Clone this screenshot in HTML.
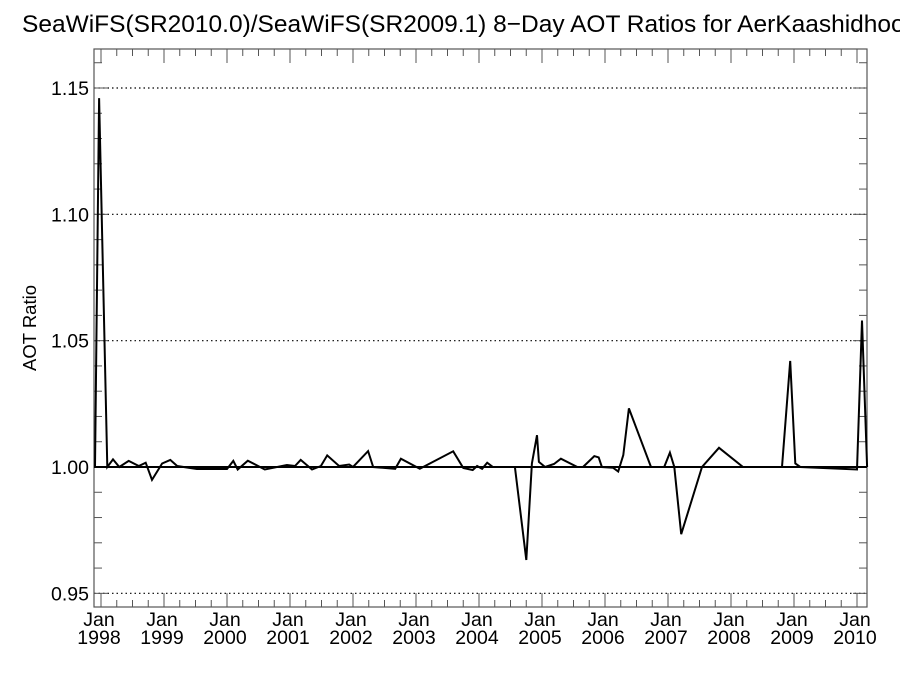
<!DOCTYPE html>
<html><head><meta charset="utf-8"><style>
html,body{margin:0;padding:0;background:#fff;}
svg{display:block;font-family:"Liberation Sans",Arial,sans-serif;}
</style></head><body>
<svg id="chart" width="900" height="675" viewBox="0 0 900 675">
<rect x="0" y="0" width="900" height="675" fill="#fff"/>
<text x="22" y="32" font-size="24.5" fill="#000">SeaWiFS(SR2010.0)/SeaWiFS(SR2009.1) 8−Day AOT Ratios for AerKaashidhoo</text>
<text transform="translate(36,328) rotate(-90)" text-anchor="middle" font-size="18.5" fill="#000">AOT Ratio</text>
<g id="grid"></g><g id="axes"></g><g id="series"></g>
</svg>
<script>
const yTickValues = [0.95, 1.00, 1.05, 1.10, 1.15];
const yTickLabels = ["0.95", "1.00", "1.05", "1.10", "1.15"];
const xYears = [1998,1999,2000,2001,2002,2003,2004,2005,2006,2007,2008,2009,2010];
const xTickLabels = ["1998","1999","2000","2001","2002","2003","2004","2005","2006","2007","2008","2009","2010"];
const dates = [1997.905,1997.97,1998.10,1998.19,1998.29,1998.44,1998.60,1998.71,1998.81,1998.97,1999.10,1999.21,1999.52,2000.00,2000.10,2000.17,2000.33,2000.60,2000.95,2001.08,2001.17,2001.35,2001.49,2001.59,2001.78,2001.94,2002.00,2002.24,2002.32,2002.67,2002.76,2003.06,2003.59,2003.75,2003.90,2003.97,2004.05,2004.13,2004.22,2004.57,2004.75,2004.84,2004.92,2004.95,2005.05,2005.19,2005.30,2005.56,2005.65,2005.83,2005.90,2005.95,2006.13,2006.21,2006.29,2006.38,2006.73,2006.94,2007.03,2007.10,2007.21,2007.54,2007.81,2008.19,2008.81,2008.94,2009.02,2009.10,2010.00,2010.08,2010.16];
const ratios = [1.000,1.146,1.000,1.003,1.000,1.0024,1.0004,1.0017,0.9949,1.0014,1.0028,1.0004,0.9992,0.9992,1.0024,0.999,1.0025,0.999,1.0008,1.0004,1.0028,0.999,1.0004,1.0046,1.0004,1.001,1.000,1.0063,1.000,0.9993,1.0033,0.9993,1.0062,0.9996,0.9988,1.0004,0.9993,1.0017,1.000,1.000,0.9632,1.0014,1.0126,1.002,1.000,1.0012,1.0033,1.000,1.000,1.0043,1.0038,1.000,0.9997,0.9982,1.0047,1.0232,1.000,1.000,1.0057,1.000,0.9734,1.000,1.0076,1.000,1.000,1.042,1.0014,1.000,0.999,1.058,1.000];
const refValue = 1.0;

const L=94,R=867,T=49,B=607;
const X0=101, PXY=63;
function xs(t){return X0+(t-1998)*PXY;}
function ys(v){return 467-(v-1)*2526.7;}
const NS="http://www.w3.org/2000/svg";
function mk(tag,parent,attrs){const e=document.createElementNS(NS,tag);for(const k in attrs)e.setAttribute(k,attrs[k]);parent.appendChild(e);return e;}
const grid=document.getElementById('grid'),axes=document.getElementById('axes'),series=document.getElementById('series');

yTickValues.forEach((v,i)=>{
  const y=ys(v);
  if(Math.abs(v-refValue)>1e-9){
    const g=mk('line',grid,{x1:L,x2:R,y1:y,y2:y,stroke:'#000','stroke-width':1.2,'stroke-dasharray':'1.5,3'});
    
    
  }
  const t=mk('text',axes,{x:L-5,y:y+7,'text-anchor':'end','font-size':19.5,fill:'#000'});
  t.textContent=yTickLabels[i];
  
  
});
for(let v=0.95;v<=1.165;v+=0.01){
  const y=ys(v);const major=Math.abs((v*100)%5)<0.01||Math.abs((v*100)%5-5)<0.01;
  const len=major?14:8;
  mk('line',axes,{x1:L,x2:L+len,y1:y,y2:y,stroke:'#555','stroke-width':1});
  mk('line',axes,{x1:R,x2:R-len,y1:y,y2:y,stroke:'#555','stroke-width':1});
}
for(let q=0;q<=49;q++){
  const t=1998+q*0.25;const x=xs(t);if(x>R)break;const major=q%4===0;const len=major?14:7;
  mk('line',axes,{x1:x,x2:x,y1:B,y2:B-len,stroke:'#555','stroke-width':1});
  mk('line',axes,{x1:x,x2:x,y1:T,y2:T+len,stroke:'#555','stroke-width':1});
}
xYears.forEach((yr,i)=>{
  const x=xs(yr)-2;
  const a=mk('text',axes,{x:x,y:626,'text-anchor':'middle','font-size':19.5,fill:'#000'});
  a.textContent='Jan';
  
  
  const b=mk('text',axes,{x:x,y:644,'text-anchor':'middle','font-size':19.5,fill:'#000'});
  b.textContent=xTickLabels[i];
  
  
});
const frame=mk('rect',axes,{x:L,y:T,width:R-L,height:B-T,fill:'none',stroke:'#555','stroke-width':1.2});


const ref=mk('line',series,{x1:L,x2:R,y1:ys(refValue),y2:ys(refValue),stroke:'#000','stroke-width':2});


const pts=dates.map((d,i)=>xs(d).toFixed(1)+','+ys(ratios[i]).toFixed(1)).join(' ');
const pl=mk('polyline',series,{points:pts,fill:'none',stroke:'#000','stroke-width':2,'stroke-linejoin':'miter'});


</script>
</body></html>
